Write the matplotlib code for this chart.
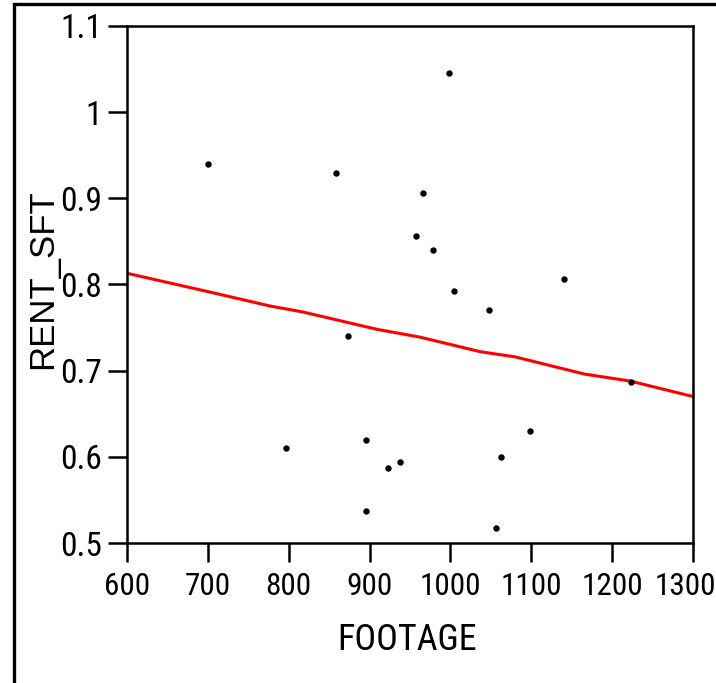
import matplotlib.pyplot as plt
from matplotlib.patches import Rectangle
from matplotlib.transforms import ScaledTranslation

# data
footage = [700, 858, 998, 966, 958, 978, 1004, 1048, 1141, 1223, 873,
           797, 896, 923, 938, 896, 1056, 1062, 1098]
rent_sft = [0.940, 0.929, 1.045, 0.906, 0.856, 0.840, 0.793, 0.770, 0.806, 0.687, 0.740,
            0.610, 0.620, 0.587, 0.594, 0.537, 0.517, 0.600, 0.630]

# smoother (red line)
fit_x = [600, 699, 777, 818, 909, 962, 1037, 1080, 1166, 1222, 1300]
fit_y = [0.813, 0.792, 0.775, 0.768, 0.748, 0.739, 0.722, 0.716, 0.696, 0.688, 0.670]

xticks = [600, 700, 800, 900, 1000, 1100, 1200, 1300]
yticks = [0.5, 0.6, 0.7, 0.8, 0.9, 1.0, 1.1]
ytick_labels = ['0.5', '0.6', '0.7', '0.8', '0.9', '1', '1.1']

plt.rcParams['font.family'] = ['Roboto Condensed', 'Liberation Sans', 'DejaVu Sans']

fig = plt.figure(figsize=(7.16, 6.83), dpi=100)
ax = fig.add_axes([127 / 716, 1 - 543 / 683, 566 / 716, 517 / 683])

ax.plot(fit_x, fit_y, color='#ff0000', lw=2.2, zorder=2)
ax.plot(footage, rent_sft, 'o', color='black', ms=3.6, zorder=3)

ax.set_xlim(600, 1300)
ax.set_ylim(0.5, 1.1)
ax.set_xticks(xticks)
ax.set_yticks(yticks)
ax.set_yticklabels(ytick_labels)
ax.tick_params(axis='x', length=14, width=1.8, labelsize=22.5, pad=7)
ax.tick_params(axis='y', length=14, width=1.8, labelsize=24, pad=4)
for s in ax.spines.values():
    s.set_linewidth(1.8)

# last x label sits tight against the image edge, nudge it in a bit
last = ax.get_xticklabels()[-1]
last.set_transform(last.get_transform() + ScaledTranslation(-8 / 100, 0, fig.dpi_scale_trans))

ax.set_xlabel('FOOTAGE', fontsize=26)
ax.xaxis.set_label_coords(0.495, -0.152)
ax.set_ylabel('RENT_SFT', fontsize=25, family=['Liberation Sans', 'DejaVu Sans'])
ax.yaxis.set_label_coords(-0.12, 0.511)

# outer frame (only left and top edges fall inside the image)
fig.patches.append(Rectangle((14 / 716, -0.05), 1.2, 1 - 4 / 683 + 0.05,
                             transform=fig.transFigure, fill=False,
                             lw=2.4, edgecolor='black', clip_on=False))

fig.savefig('out.png', dpi=100)
